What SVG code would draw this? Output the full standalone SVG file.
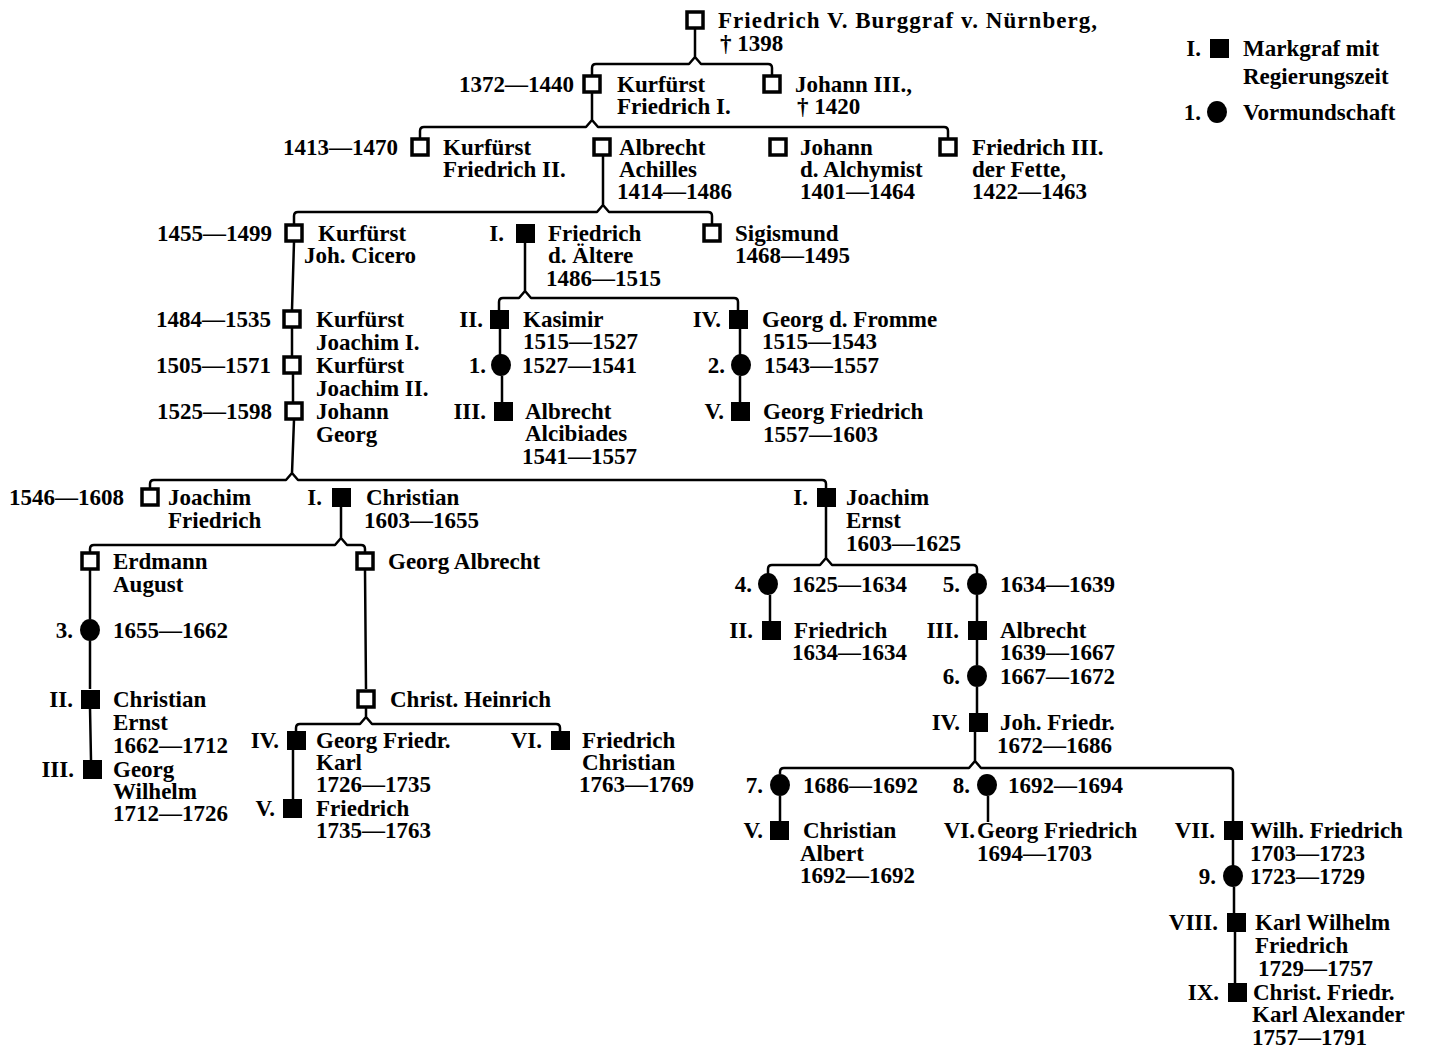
<svg xmlns="http://www.w3.org/2000/svg" width="1429" height="1051" viewBox="0 0 1429 1051">
<style>
.t{font-family:"Liberation Serif","DejaVu Serif",serif;font-weight:bold;font-size:23px;fill:#000}
.e{text-anchor:end}
.os{fill:#fff;stroke:#000;stroke-width:3.5}
.fs{fill:#000}
.ci{fill:#000}
.c{stroke:#000;stroke-width:2.5;fill:none;stroke-linejoin:round}
</style>
<rect width="1429" height="1051" fill="#fff"/>
<g id="connectors" class="c">
<path d="M695,29 L695,57 M592,75 L592,68 Q592,64 596,64 L689,64 L695,57 L701,64 L768,64 Q772,64 772,68 L772,75"/>
<path d="M592,93 L592,120 M420,138 L420,131 Q420,127 424,127 L586,127 L592,120 L598,127 L944,127 Q948,127 948,131 L948,138"/>
<path d="M603,156 L603,205 M294,224 L294,216 Q294,212 298,212 L597,212 L603,205 L609,212 L708,212 Q712,212 712,216 L712,224"/>
<path d="M525,242 L525,291 M499,310 L499,302 Q499,298 503,298 L519,298 L525,291 L531,298 L734,298 Q738,298 738,302 L738,310"/>
<path d="M294,242 L292,310 M292,328 L292,356 M293,374 L293,402"/>
<path d="M500,328 L500,355 M502,376 L502,402"/>
<path d="M740,328 L740,355 M740,376 L740,402"/>
<path d="M294,420 L292,473 M150,488 L150,484 Q150,480 154,480 L286,480 L292,473 L298,480 L822,480 Q826,480 826,484 L826,488"/>
<path d="M341,506 L341,538 M90,552 L90,549 Q90,545 94,545 L335,545 L341,538 L347,545 L361,545 Q365,545 365,549 L365,552"/>
<path d="M826,506 L826,558 M768,574 L768,569 Q768,565 772,565 L820,565 L826,558 L832,565 L973,565 Q977,565 977,569 L977,574"/>
<path d="M90,570 L90,619 M90,641 L90,689 M90,708 L91,760"/>
<path d="M365,570 L366,689 M366,708 L366,717 M296,731 L296,728 Q296,724 300,724 L360,724 L366,717 L372,724 L556,724 Q560,724 560,728 L560,731"/>
<path d="M293,749 L293,800"/>
<path d="M770,595 L770,621"/>
<path d="M977,595 L977,621 M977,639 L977,665 M977,687 L977,713"/>
<path d="M975,731 L975,761 M780,774 L780,772 Q780,768 784,768 L969,768 L975,761 L981,768 L1229,768 Q1233,768 1233,772 L1233,821"/>
<path d="M780,796 L780,821 M988,796 L988,822"/>
<path d="M1233,839 L1233,866 M1234,887 L1234,913 M1235,931 L1235,983"/>
</g>
<g id="legend">
<text class="t e" x="1201" y="56">I.</text><rect class="fs" x="1210" y="39" width="19" height="19"/>
<text class="t" x="1243" y="56">Markgraf mit</text><text class="t" x="1243" y="84">Regierungszeit</text>
<text class="t e" x="1201" y="120">1.</text><ellipse class="ci" cx="1217" cy="112" rx="10" ry="11"/>
<text class="t" x="1243" y="120">Vormundschaft</text>
</g>
<g id="n1"><rect class="os" x="687" y="12" width="16" height="16"/><text class="t" x="718" y="28" textLength="379" lengthAdjust="spacing">Friedrich V. Burggraf v. Nürnberg,</text><text class="t" x="720" y="51">† 1398</text></g>
<g id="n2"><text class="t e" x="574" y="92">1372—1440</text><rect class="os" x="584" y="76" width="16" height="16"/><text class="t" x="617" y="92">Kurfürst</text><text class="t" x="617" y="114">Friedrich I.</text></g>
<g id="n3"><rect class="os" x="764" y="76" width="16" height="16"/><text class="t" x="795" y="92">Johann III.,</text><text class="t" x="797" y="114">† 1420</text></g>
<g id="n4"><text class="t e" x="398" y="155">1413—1470</text><rect class="os" x="412" y="139" width="16" height="16"/><text class="t" x="443" y="155">Kurfürst</text><text class="t" x="443" y="177">Friedrich II.</text></g>
<g id="n5"><rect class="os" x="594" y="139" width="16" height="16"/><text class="t" x="619" y="155">Albrecht</text><text class="t" x="619" y="177">Achilles</text><text class="t" x="617" y="199">1414—1486</text></g>
<g id="n6"><rect class="os" x="770" y="139" width="16" height="16"/><text class="t" x="800" y="155">Johann</text><text class="t" x="800" y="177">d. Alchymist</text><text class="t" x="800" y="199">1401—1464</text></g>
<g id="n7"><rect class="os" x="940" y="139" width="16" height="16"/><text class="t" x="972" y="155">Friedrich III.</text><text class="t" x="972" y="177">der Fette,</text><text class="t" x="972" y="199">1422—1463</text></g>
<g id="n8"><text class="t e" x="272" y="241">1455—1499</text><rect class="os" x="286" y="225" width="16" height="16"/><text class="t" x="318" y="241">Kurfürst</text><text class="t" x="304" y="263">Joh. Cicero</text></g>
<g id="n9"><text class="t e" x="504" y="241">I.</text><rect class="fs" x="516" y="224" width="19" height="19"/><text class="t" x="548" y="241">Friedrich</text><text class="t" x="548" y="263">d. Ältere</text><text class="t" x="546" y="286">1486—1515</text></g>
<g id="n10"><rect class="os" x="704" y="225" width="16" height="16"/><text class="t" x="735" y="241">Sigismund</text><text class="t" x="735" y="263">1468—1495</text></g>
<g id="n11"><text class="t e" x="271" y="327">1484—1535</text><rect class="os" x="284" y="311" width="16" height="16"/><text class="t" x="316" y="327">Kurfürst</text><text class="t" x="316" y="350">Joachim I.</text></g>
<g id="n12"><text class="t e" x="271" y="373">1505—1571</text><rect class="os" x="284" y="357" width="16" height="16"/><text class="t" x="316" y="373">Kurfürst</text><text class="t" x="316" y="396">Joachim II.</text></g>
<g id="n13"><text class="t e" x="272" y="419">1525—1598</text><rect class="os" x="286" y="403" width="16" height="16"/><text class="t" x="316" y="419">Johann</text><text class="t" x="316" y="442">Georg</text></g>
<g id="n14"><text class="t e" x="483" y="327">II.</text><rect class="fs" x="490" y="310" width="19" height="19"/><text class="t" x="523" y="327">Kasimir</text><text class="t" x="523" y="349">1515—1527</text></g>
<g id="n15"><text class="t e" x="486" y="373">1.</text><ellipse class="ci" cx="501" cy="365" rx="10" ry="11"/><text class="t" x="522" y="373">1527—1541</text></g>
<g id="n16"><text class="t e" x="486" y="419">III.</text><rect class="fs" x="494" y="402" width="19" height="19"/><text class="t" x="525" y="419">Albrecht</text><text class="t" x="525" y="441">Alcibiades</text><text class="t" x="522" y="464">1541—1557</text></g>
<g id="n17"><text class="t e" x="721" y="327">IV.</text><rect class="fs" x="729" y="310" width="19" height="19"/><text class="t" x="762" y="327">Georg d. Fromme</text><text class="t" x="762" y="349">1515—1543</text></g>
<g id="n18"><text class="t e" x="725" y="373">2.</text><ellipse class="ci" cx="741" cy="365" rx="10" ry="11"/><text class="t" x="764" y="373">1543—1557</text></g>
<g id="n19"><text class="t e" x="724" y="419">V.</text><rect class="fs" x="731" y="402" width="19" height="19"/><text class="t" x="763" y="419">Georg Friedrich</text><text class="t" x="763" y="442">1557—1603</text></g>
<g id="n20"><text class="t e" x="124" y="505">1546—1608</text><rect class="os" x="142" y="489" width="16" height="16"/><text class="t" x="168" y="505">Joachim</text><text class="t" x="168" y="528">Friedrich</text></g>
<g id="n21"><text class="t e" x="322" y="505">I.</text><rect class="fs" x="332" y="488" width="19" height="19"/><text class="t" x="366" y="505">Christian</text><text class="t" x="364" y="528">1603—1655</text></g>
<g id="n22"><text class="t e" x="808" y="505">I.</text><rect class="fs" x="817" y="488" width="19" height="19"/><text class="t" x="846" y="505">Joachim</text><text class="t" x="846" y="528">Ernst</text><text class="t" x="846" y="551">1603—1625</text></g>
<g id="n23"><rect class="os" x="82" y="553" width="16" height="16"/><text class="t" x="113" y="569">Erdmann</text><text class="t" x="113" y="592">August</text></g>
<g id="n24"><text class="t e" x="73" y="638">3.</text><ellipse class="ci" cx="90" cy="630" rx="10" ry="11"/><text class="t" x="113" y="638">1655—1662</text></g>
<g id="n25"><text class="t e" x="73" y="707">II.</text><rect class="fs" x="81" y="690" width="19" height="19"/><text class="t" x="113" y="707">Christian</text><text class="t" x="113" y="730">Ernst</text><text class="t" x="113" y="753">1662—1712</text></g>
<g id="n26"><text class="t e" x="74" y="777">III.</text><rect class="fs" x="83" y="760" width="19" height="19"/><text class="t" x="113" y="777">Georg</text><text class="t" x="113" y="799">Wilhelm</text><text class="t" x="113" y="821">1712—1726</text></g>
<g id="n27"><rect class="os" x="357" y="553" width="16" height="16"/><text class="t" x="388" y="569">Georg Albrecht</text></g>
<g id="n28"><rect class="os" x="358" y="691" width="16" height="16"/><text class="t" x="390" y="707">Christ. Heinrich</text></g>
<g id="n29"><text class="t e" x="279" y="748">IV.</text><rect class="fs" x="287" y="731" width="19" height="19"/><text class="t" x="316" y="748">Georg Friedr.</text><text class="t" x="316" y="770">Karl</text><text class="t" x="316" y="792">1726—1735</text></g>
<g id="n30"><text class="t e" x="275" y="816">V.</text><rect class="fs" x="283" y="799" width="19" height="19"/><text class="t" x="316" y="816">Friedrich</text><text class="t" x="316" y="838">1735—1763</text></g>
<g id="n31"><text class="t e" x="542" y="748">VI.</text><rect class="fs" x="551" y="731" width="19" height="19"/><text class="t" x="582" y="748">Friedrich</text><text class="t" x="582" y="770">Christian</text><text class="t" x="579" y="792">1763—1769</text></g>
<g id="n32"><text class="t e" x="752" y="592">4.</text><ellipse class="ci" cx="768" cy="584" rx="10" ry="11"/><text class="t" x="792" y="592">1625—1634</text></g>
<g id="n33"><text class="t e" x="753" y="638">II.</text><rect class="fs" x="762" y="621" width="19" height="19"/><text class="t" x="794" y="638">Friedrich</text><text class="t" x="792" y="660">1634—1634</text></g>
<g id="n34"><text class="t e" x="960" y="592">5.</text><ellipse class="ci" cx="977" cy="584" rx="10" ry="11"/><text class="t" x="1000" y="592">1634—1639</text></g>
<g id="n35"><text class="t e" x="959" y="638">III.</text><rect class="fs" x="968" y="621" width="19" height="19"/><text class="t" x="1000" y="638">Albrecht</text><text class="t" x="1000" y="660">1639—1667</text></g>
<g id="n36"><text class="t e" x="960" y="684">6.</text><ellipse class="ci" cx="977" cy="676" rx="10" ry="11"/><text class="t" x="1000" y="684">1667—1672</text></g>
<g id="n37"><text class="t e" x="960" y="730">IV.</text><rect class="fs" x="969" y="713" width="19" height="19"/><text class="t" x="1000" y="730">Joh. Friedr.</text><text class="t" x="997" y="753">1672—1686</text></g>
<g id="n38"><text class="t e" x="763" y="793">7.</text><ellipse class="ci" cx="780" cy="785" rx="10" ry="11"/><text class="t" x="803" y="793">1686—1692</text></g>
<g id="n39"><text class="t e" x="763" y="838">V.</text><rect class="fs" x="770" y="821" width="19" height="19"/><text class="t" x="803" y="838">Christian</text><text class="t" x="800" y="861">Albert</text><text class="t" x="800" y="883">1692—1692</text></g>
<g id="n40"><text class="t e" x="970" y="793">8.</text><ellipse class="ci" cx="987" cy="785" rx="10" ry="11"/><text class="t" x="1008" y="793">1692—1694</text></g>
<g id="n41"><text class="t e" x="975" y="838">VI.</text><text class="t" x="977" y="838">Georg Friedrich</text><text class="t" x="977" y="861">1694—1703</text></g>
<g id="n42"><text class="t e" x="1215" y="838">VII.</text><rect class="fs" x="1224" y="821" width="19" height="19"/><text class="t" x="1250" y="838">Wilh. Friedrich</text><text class="t" x="1250" y="861">1703—1723</text></g>
<g id="n43"><text class="t e" x="1216" y="884">9.</text><ellipse class="ci" cx="1233" cy="876" rx="10" ry="11"/><text class="t" x="1250" y="884">1723—1729</text></g>
<g id="n44"><text class="t e" x="1218" y="930">VIII.</text><rect class="fs" x="1227" y="913" width="19" height="19"/><text class="t" x="1255" y="930">Karl Wilhelm</text><text class="t" x="1255" y="953">Friedrich</text><text class="t" x="1258" y="976">1729—1757</text></g>
<g id="n45"><text class="t e" x="1219" y="1000">IX.</text><rect class="fs" x="1228" y="983" width="19" height="19"/><text class="t" x="1253" y="1000">Christ. Friedr.</text><text class="t" x="1252" y="1022">Karl Alexander</text><text class="t" x="1252" y="1045">1757—1791</text></g>
</svg>
